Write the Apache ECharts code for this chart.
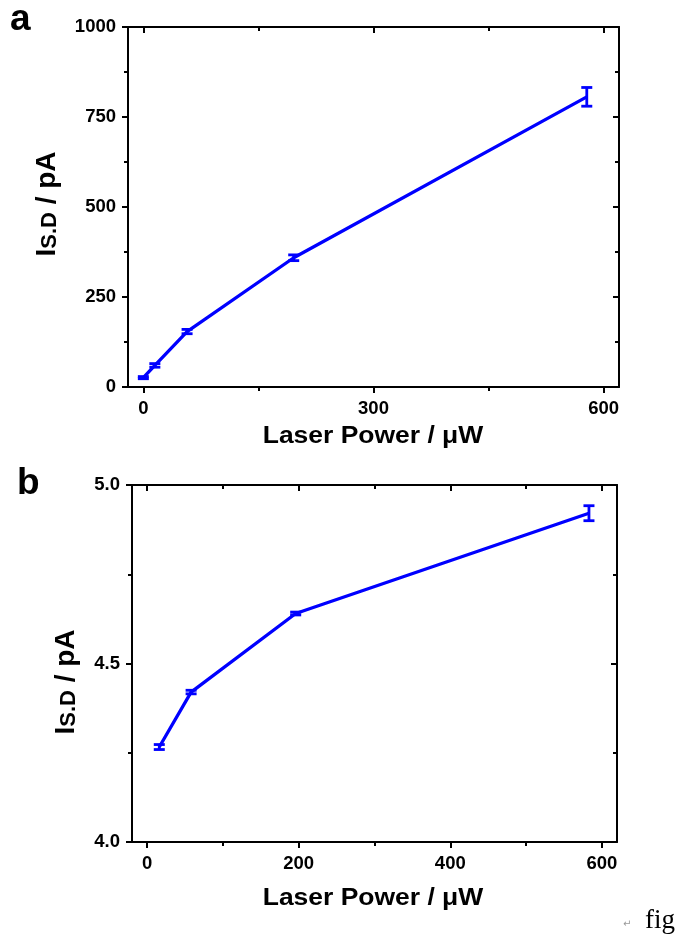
<!DOCTYPE html>
<html>
<head>
<meta charset="utf-8">
<script src="https://cdn.jsdelivr.net/npm/echarts@6/dist/echarts.min.js"></script>
<style>
html,body{margin:0;padding:0;background:#fff;}
#c{width:682px;height:939px;}
</style>
</head>
<body>
<div id="c"></div>
<script>
// ---- data ----
const xA = [0, 15, 57, 196, 578];
const yA = [26, 60, 154, 359, 806];
const errA = [3, 5, 6, 8, 26];

const xB = [16, 58, 196, 583];
const yB = [4.266, 4.42, 4.64, 4.921];
const errB = [0.007, 0.005, 0.004, 0.021];

const xMajorA = [0, 300, 600];
const xMinorA = [150, 450];
const xMajorB = [0, 200, 400, 600];
const xMinorB = [100, 300, 500];

const yRangeA = [0, 1000, 250];
const yRangeB = [4, 5, 0.5];
const xRange = [-20, 620];

const xTitle = 'Laser Power / \u03bcW';
const panelLetters = ['a', 'b'];

// ---- styling ----
const FONT = '"Liberation Sans", Arial, sans-serif';
const BLUE = '#0000ff';
const BLACK = '#000';
const TICKFONT = 18.5;

function xAxesFor(grid, major, minor) {
  const base = {
    type: 'value', gridIndex: grid, min: xRange[0], max: xRange[1],
    splitLine: {show: false}, axisPointer: {show: false}
  };
  return [
    Object.assign({}, base, {
      position: 'bottom',
      axisLine: {show: true, onZero: false, lineStyle: {color: BLACK, width: 2}},
      axisTick: {show: true, customValues: major, length: 6, inside: false, lineStyle: {color: BLACK, width: 2}},
      axisLabel: {show: true, customValues: major, margin: 12, color: BLACK,
        fontFamily: FONT, fontWeight: 'bold', fontSize: TICKFONT}
    }),
    Object.assign({}, base, {
      position: 'bottom',
      axisLine: {show: false, onZero: false},
      axisTick: {show: true, customValues: minor, length: 4, inside: false, lineStyle: {color: BLACK, width: 2}},
      axisLabel: {show: false}
    }),
    Object.assign({}, base, {
      position: 'top',
      axisLine: {show: true, onZero: false, lineStyle: {color: BLACK, width: 2}},
      axisTick: {show: true, customValues: major, length: 6, inside: true, lineStyle: {color: BLACK, width: 2}},
      axisLabel: {show: false}
    }),
    Object.assign({}, base, {
      position: 'top',
      axisLine: {show: false, onZero: false},
      axisTick: {show: true, customValues: minor, length: 4, inside: true, lineStyle: {color: BLACK, width: 2}},
      axisLabel: {show: false}
    })
  ];
}

function yAxesFor(grid, range, fmt) {
  const base = {
    type: 'value', gridIndex: grid, min: range[0], max: range[1], interval: range[2],
    splitLine: {show: false}, minorSplitLine: {show: false}, axisPointer: {show: false}
  };
  return [
    Object.assign({}, base, {
      position: 'left',
      axisLine: {show: true, onZero: false, lineStyle: {color: BLACK, width: 2}},
      axisTick: {show: true, length: 6, inside: false, lineStyle: {color: BLACK, width: 2}},
      minorTick: {show: true, splitNumber: 2, length: 4, lineStyle: {color: BLACK, width: 2}},
      axisLabel: {show: true, margin: 12, color: BLACK, fontFamily: FONT, fontWeight: 'bold',
        fontSize: TICKFONT, formatter: fmt}
    }),
    Object.assign({}, base, {
      position: 'right',
      axisLine: {show: true, onZero: false, lineStyle: {color: BLACK, width: 2}},
      axisTick: {show: true, length: 6, inside: true, lineStyle: {color: BLACK, width: 2}},
      minorTick: {show: true, splitNumber: 2, length: 4, lineStyle: {color: BLACK, width: 2}},
      axisLabel: {show: false}
    })
  ];
}

function errorRender(params, api) {
  const x = api.value(0), y = api.value(1), e = api.value(2);
  const top = api.coord([x, y + e]);
  const bot = api.coord([x, y - e]);
  const hw = 5.5;
  const st = {stroke: BLUE, lineWidth: 2.8};
  return {
    type: 'group',
    children: [
      {type: 'line', shape: {x1: top[0], y1: top[1], x2: bot[0], y2: bot[1]}, style: st},
      {type: 'line', shape: {x1: top[0] - hw, y1: top[1], x2: top[0] + hw, y2: top[1]}, style: st},
      {type: 'line', shape: {x1: bot[0] - hw, y1: bot[1], x2: bot[0] + hw, y2: bot[1]}, style: st}
    ]
  };
}

function ylabel(x, y) {
  return {
    type: 'text', x: x, y: y, rotation: Math.PI / 2, z: 10,
    style: {
      text: '{m|I}{s|S.D}{m| / pA}',
      textAlign: 'center', textVerticalAlign: 'middle', align: 'center', verticalAlign: 'middle',
      fill: BLACK,
      rich: {
        m: {fontFamily: FONT, fontWeight: 'bold', fontSize: 28, lineHeight: 28, verticalAlign: 'top', fill: BLACK},
        s: {fontFamily: FONT, fontWeight: 'bold', fontSize: 22, lineHeight: 22, verticalAlign: 'bottom',
            padding: [10, 0, 0, 0], fill: BLACK}
      }
    }
  };
}

function xlabel(x, y) {
  return {
    type: 'text', x: x, y: y, scaleX: 1.15, z: 10,
    style: {
      text: xTitle, font: 'bold 23px ' + FONT,
      textAlign: 'center', textVerticalAlign: 'middle', align: 'center', verticalAlign: 'middle',
      fill: BLACK
    }
  };
}

function letter(t, x, y) {
  return {
    type: 'text', x: x, y: y, z: 10,
    style: {text: t, font: 'bold 37px ' + FONT, textAlign: 'left', align: 'left',
      textVerticalAlign: 'middle', verticalAlign: 'middle', fill: BLACK}
  };
}

const chart = echarts.init(document.getElementById('c'), null, {renderer: 'canvas'});

const option = {
  backgroundColor: '#fff',
  animation: false,
  grid: [
    {left: 128, top: 27, width: 491, height: 360, containLabel: false},
    {left: 132, top: 485, width: 485, height: 357, containLabel: false}
  ],
  xAxis: [].concat(xAxesFor(0, xMajorA, xMinorA), xAxesFor(1, xMajorB, xMinorB)),
  yAxis: [].concat(
    yAxesFor(0, yRangeA, v => String(v)),
    yAxesFor(1, yRangeB, v => v.toFixed(1))
  ),
  series: [
    {type: 'line', xAxisIndex: 0, yAxisIndex: 0, data: xA.map((x, i) => [x, yA[i]]),
      showSymbol: false, lineStyle: {color: BLUE, width: 3.3}, itemStyle: {color: BLUE}, z: 3},
    {type: 'custom', xAxisIndex: 0, yAxisIndex: 0, renderItem: errorRender, clip: false,
      encode: {x: 0, y: 1}, data: xA.map((x, i) => [x, yA[i], errA[i]]), z: 4},
    {type: 'line', xAxisIndex: 4, yAxisIndex: 2, data: xB.map((x, i) => [x, yB[i]]),
      showSymbol: false, lineStyle: {color: BLUE, width: 3.3}, itemStyle: {color: BLUE}, z: 3},
    {type: 'custom', xAxisIndex: 4, yAxisIndex: 2, renderItem: errorRender, clip: false,
      encode: {x: 0, y: 1}, data: xB.map((x, i) => [x, yB[i], errB[i]]), z: 4}
  ],
  graphic: [
    letter(panelLetters[0], 10, 20),
    letter(panelLetters[1], 17, 484),
    ylabel(47, 204),
    ylabel(66, 682),
    xlabel(373, 437),
    xlabel(373, 899),
    {type: 'text', x: 623, y: 924, style: {text: '\u21b5', font: '10px "DejaVu Sans"', fill: '#999',
      textVerticalAlign: 'middle', verticalAlign: 'middle'}},
    {type: 'text', x: 645, y: 921, style: {text: 'fig', font: '27px "Liberation Serif", serif', fill: '#000',
      textVerticalAlign: 'middle', verticalAlign: 'middle'}}
  ]
};
chart.setOption(option);
</script>
</body>
</html>
